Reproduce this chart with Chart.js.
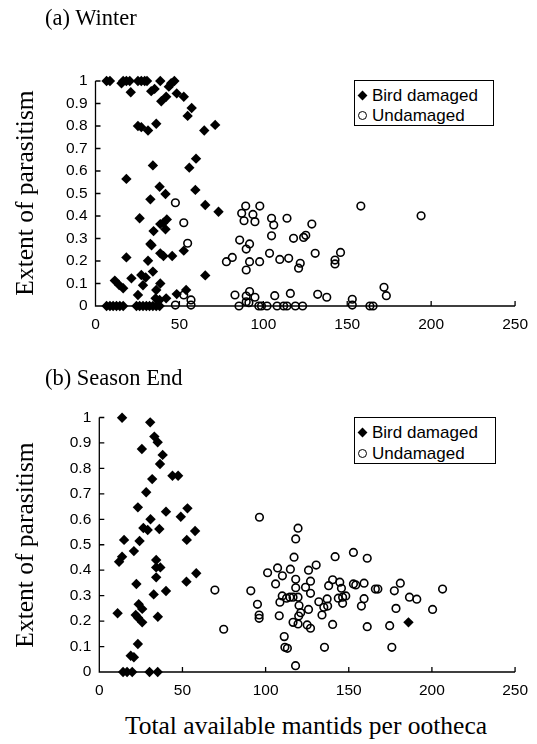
<!DOCTYPE html>
<html><head><meta charset="utf-8">
<script src="https://cdn.jsdelivr.net/npm/chart.js@4.4.1/dist/chart.umd.min.js"></script>
<style>
html,body{margin:0;padding:0;background:#fff;}
#wrap{position:relative;width:537px;height:744px;overflow:hidden;background:#fff;}
canvas{position:absolute;left:0;}
.t{position:absolute;font-family:"Liberation Serif","Times New Roman",serif;color:#000;white-space:nowrap;line-height:1;}
.ytitle{font-size:25.5px;transform:translate(-50%,-50%) rotate(-90deg);}
.ptitle{font-size:22.5px;transform:translateY(-50%);}
.xtitle{font-size:25.5px;transform:translate(-50%,-50%);}
.legend{position:absolute;border:1px solid #000;background:#fff;box-sizing:border-box;font-family:"Liberation Sans",Arial,sans-serif;font-size:17px;color:#000;}
.row{position:absolute;left:0;white-space:nowrap;line-height:1;transform:translateY(-50%);}
.row span.txt{position:absolute;left:17px;top:0;}
.dia{position:absolute;left:4px;top:50%;width:7px;height:7px;background:#000;transform:translateY(-50%) rotate(45deg);}
.cir{position:absolute;left:3px;top:50%;width:9px;height:9px;border:1.6px solid #000;border-radius:50%;box-sizing:border-box;transform:translateY(-50%);}
</style></head>
<body><div id="wrap">
<canvas id="c1" width="537" height="345" style="top:0"></canvas>
<canvas id="c2" width="537" height="360" style="top:345px"></canvas>
<div class="t ptitle" style="left:45px;top:18px">(a) Winter</div>
<div class="t ptitle" style="left:45px;top:378px">(b) Season End</div>
<div class="t ytitle" style="left:25px;top:193px">Extent of parasitism</div>
<div class="t ytitle" style="left:25px;top:545px">Extent of parasitism</div>
<div class="t xtitle" style="left:306px;top:726px">Total available mantids per ootheca</div>
<div class="legend" style="left:354px;top:80px;width:140px;height:46px">
  <div class="row" style="top:14px;width:130px;height:17px"><div class="dia"></div><span class="txt">Bird damaged</span></div>
  <div class="row" style="top:34px;width:130px;height:17px"><div class="cir"></div><span class="txt">Undamaged</span></div>
</div>
<div class="legend" style="left:354px;top:417px;width:142px;height:47px">
  <div class="row" style="top:14px;width:130px;height:17px"><div class="dia"></div><span class="txt">Bird damaged</span></div>
  <div class="row" style="top:35px;width:130px;height:17px"><div class="cir"></div><span class="txt">Undamaged</span></div>
</div>
</div>
<script>
// ---- data ----
const xTicks = [0, 50, 100, 150, 200, 250];
const yTicks = [0, 0.1, 0.2, 0.3, 0.4, 0.5, 0.6, 0.7, 0.8, 0.9, 1];
const seriesLabels = ["Bird damaged", "Undamaged"];

const winterBirdX = [6.6,8.6,15.5,16.5,18.4,20.4,21,25.3,27.3,29.3,30.7,33.2,35.2,38.6,39.2,42.1,43.7,45.1,47,48.4,52.6,57.3,54.9,25.3,27.3,31.3,36.2,64.8,71.3,59.9,55.9,34.2,18.4,
38.2,41.7,32.7,59.5,65.4,73.3,26.3,42.5,40.5,38.6,34.6,41.7,32.7,33.4,18.4,31.3,38.6,40.5,45.7,52.6,65.4,11.5,14.1,16.5,21.4,27.3,29.9,34.2,28.3,38.6,25.3,36.2,35.8,38.2,42.1,48.4,54,
6.6,8.6,10.5,12.5,14.5,16.5,24.4,26.3,28.3,30.3,32.2,34.2,36.2,38.2];
const winterBirdY = [1,1,0.99,1,1,1,0.95,1,1,1,1,0.955,0.965,1,0.91,0.93,0.975,0.99,1,0.945,0.93,0.88,0.845,0.8,0.795,0.78,0.81,0.78,0.805,0.655,0.615,0.625,0.565,
0.53,0.498,0.474,0.516,0.449,0.419,0.39,0.385,0.37,0.364,0.333,0.341,0.276,0.27,0.216,0.201,0.234,0.222,0.222,0.246,0.136,0.113,0.093,0.079,0.123,0.138,0.127,0.153,0.092,0.1,0.049,0.071,0.034,0.027,0.034,0.053,0.071,
0,0,0,0,0,0,0,0,0,0,0,0,0,0];

const winterUndX = [47.6,52.6,54.9,52.6,47.6,56.9,56.9,
89.5,97.9,87.1,93.8,88.5,95,104.9,106.2,114.1,128.9,
104.9,118,124,125.3,85.9,91.8,89.8,81.5,78,91.8,
89.8,97.8,103.7,109.8,115.1,122,121,130.9,146,142.7,
142.7,158.1,83.1,89.8,91.8,95,89.8,91.4,106.8,116.1,
132.4,137.8,153,153,85.5,97.3,98.9,102.2,108.2,112.1,114.1,119.1,123.4,163.5,165.4,
171.9,173.3,194];
const winterUndY = [0.459,0.37,0.279,0.049,0.004,0.027,0.004,
0.444,0.444,0.412,0.407,0.379,0.375,0.39,0.36,0.39,0.364,
0.312,0.301,0.305,0.314,0.293,0.276,0.253,0.216,0.197,0.197,
0.16,0.197,0.234,0.207,0.212,0.19,0.168,0.234,0.238,0.204,
0.187,0.444,0.049,0.044,0.064,0.039,0.019,0.015,0.046,0.056,
0.052,0.039,0.03,0.004,0,0,0,0,0,0,0,0,0,0,0,
0.083,0.046,0.401];

const seasonBirdX = [13.7,30.6,33.1,35.1,25.6,38.1,36.5,44,47.4,31.8,
28.2,23.2,40.1,53,49,30.8,26.5,29.1,36.1,57.6,
14.9,24.2,52.6,20.8,13.7,11.9,34.2,34.2,36.7,34.2,
22.3,52.4,58.3,32.7,40.1,23.7,25.8,11,21.9,23.3,
25.8,35.2,23.2,18.9,20.8,14.3,16.7,19.8,30.2,35.1,185.9];
const seasonBirdY = [0.999,0.981,0.925,0.903,0.876,0.853,0.817,0.771,0.771,0.758,
0.706,0.647,0.63,0.643,0.61,0.6,0.566,0.558,0.562,0.554,
0.519,0.515,0.519,0.475,0.453,0.433,0.44,0.411,0.411,0.372,
0.346,0.355,0.388,0.305,0.318,0.266,0.248,0.231,0.224,0.213,
0.195,0.217,0.11,0.064,0.058,0,0,0,0,0,0.195];

const seasonUndX = [69.5,74.8,96.3,119.5,118.1,117.1,141.8,152.8,161.1,101.2,
107.2,114.9,110.1,125.8,130.4,106,118.1,118.1,127,124,
127,91.1,110,112.6,114.6,116.5,119.5,108.6,120.1,132,
137,140.3,144.6,145.6,137.9,152.8,154.2,159.2,143.7,146.3,
148.2,146.3,135,137.3,159.2,157.6,166,95.1,96.1,96.1,
108.2,119.9,121.1,125.8,133.9,116.5,119.5,125,127,140.3,
161.1,111.2,111.6,113.1,135.4,118,181,167.5,177.4,186.5,
190.9,206.4,178.4,200.4,174.6,175.9];
const seasonUndY = [0.322,0.168,0.608,0.565,0.523,0.451,0.453,0.47,0.447,0.39,
0.409,0.404,0.378,0.4,0.42,0.346,0.364,0.331,0.357,0.333,
0.309,0.319,0.299,0.29,0.294,0.294,0.294,0.274,0.261,0.276,
0.287,0.362,0.353,0.329,0.339,0.346,0.342,0.349,0.29,0.294,
0.299,0.27,0.254,0.259,0.288,0.259,0.326,0.266,0.224,0.211,
0.221,0.22,0.233,0.246,0.224,0.195,0.189,0.185,0.172,0.187,
0.178,0.139,0.097,0.093,0.097,0.025,0.349,0.326,0.319,0.294,
0.286,0.326,0.25,0.246,0.182,0.097];

// ---- build ----
function pts(xs, ys){ return xs.map((x,i)=>({x:x, y:ys[i]})); }

const axesPlugin = {
  id: 'axesInner',
  beforeDatasetsDraw(chart){
    const {ctx, scales} = chart; const x = scales.x, y = scales.y;
    const x0 = x.getPixelForValue(xTicks[0]), x1 = x.getPixelForValue(xTicks[xTicks.length-1]);
    const y0 = y.getPixelForValue(yTicks[0]), y1 = y.getPixelForValue(yTicks[yTicks.length-1]);
    ctx.save();
    ctx.strokeStyle = '#000'; ctx.lineWidth = 1.3;
    ctx.beginPath();
    ctx.moveTo(x0, y1); ctx.lineTo(x0, y0); ctx.lineTo(x1, y0);
    xTicks.forEach(v=>{ const p = x.getPixelForValue(v); ctx.moveTo(p, y0); ctx.lineTo(p, y0-5); });
    yTicks.forEach(v=>{ const p = y.getPixelForValue(v); ctx.moveTo(x0, p); ctx.lineTo(x0+5, p); });
    ctx.stroke();
    ctx.restore();
  }
};

function makeChart(id, birdX, birdY, undX, undY, geo){
  return new Chart(document.getElementById(id), {
    type: 'scatter',
    data: { datasets: [
      { label: seriesLabels[0], data: pts(birdX, birdY), pointStyle: 'rectRot', pointRadius: 5.2,
        backgroundColor: '#000', borderColor: '#000', borderWidth: 0, clip: false },
      { label: seriesLabels[1], data: pts(undX, undY), pointStyle: 'circle', pointRadius: 3.8,
        backgroundColor: 'rgba(255,255,255,0)', borderColor: '#000', borderWidth: 1.6, clip: false }
    ]},
    options: {
      responsive: false, animation: false, devicePixelRatio: 1,
      layout: { padding: { left: 0, right: geo.right, top: geo.top, bottom: geo.bottom } },
      plugins: { legend: { display: false }, tooltip: { enabled: false }, title: { display: false } },
      scales: {
        x: { type: 'linear', min: xTicks[0], max: xTicks[xTicks.length-1],
             afterBuildTicks: s => { s.ticks = xTicks.map(v=>({value:v})); },
             ticks: { padding: 9, color: '#000', maxRotation: 0, autoSkip: false,
                      font: { family: 'Liberation Sans', size: 15.5 } },
             grid: { display: false, drawTicks: false }, border: { display: false },
             afterFit: s => { s.height = 30; } },
        y: { type: 'linear', min: yTicks[0], max: yTicks[yTicks.length-1],
             afterBuildTicks: s => { s.ticks = yTicks.map(v=>({value:v})); },
             ticks: { padding: 8, color: '#000', autoSkip: false,
                      font: { family: 'Liberation Sans', size: 15.5 },
                      callback: v => String(Math.round(v*10)/10) },
             grid: { display: false, drawTicks: false }, border: { display: false },
             afterFit: s => { s.width = geo.left; } }
      }
    },
    plugins: [axesPlugin]
  });
}

makeChart('c1', winterBirdX, winterBirdY, winterUndX, winterUndY, {left: 95.5, right: 19, top: 81, bottom: 9});
makeChart('c2', seasonBirdX, seasonBirdY, seasonUndX, seasonUndY, {left: 99.3, right: 18, top: 72.5, bottom: 3});
</script>
</body></html>
